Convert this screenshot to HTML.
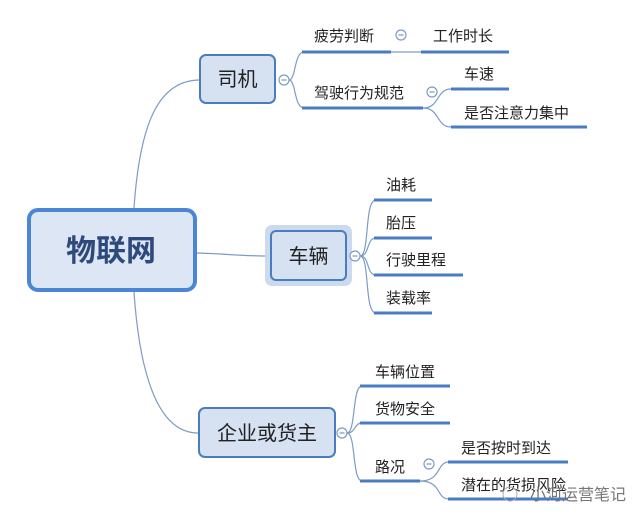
<!DOCTYPE html>
<html><head><meta charset="utf-8"><style>
html,body{margin:0;padding:0;background:#fff;}
svg{display:block;}
text{font-family:"Liberation Sans","Noto Sans CJK SC",sans-serif;fill:#222;}
</style></head><body>
<svg width="640" height="524" viewBox="0 0 640 524" xmlns="http://www.w3.org/2000/svg">
<g fill="none" stroke="#7d9cc4" stroke-width="1.2">
<path d="M134 208 C140 120 160 80 200 80"/>
<path d="M134 292 C140 380 160 433 198 433"/>
<path d="M197 253 C230 254 240 256 270 256"/>
<path d="M289 80 C296 80 294 52 304 52"/>
<path d="M289 80 C296 80 294 108 304 108"/>
<path d="M391 52 L421 52"/>
<path d="M423 108 C440 108 436 89 451 89"/>
<path d="M423 108 C440 108 436 127 451 127"/>
<path d="M360 256 C370 256 364 200 376 200"/>
<path d="M360 256 C370 256 366 238 376 238"/>
<path d="M360 256 C370 256 366 275 376 275"/>
<path d="M360 256 C370 256 364 313 376 313"/>
<path d="M347 433 C356 433 352 386 362 386"/>
<path d="M347 433 C356 433 354 423 362 423"/>
<path d="M347 433 C356 433 352 481 362 481"/>
<path d="M420 481 C442 481 436 462 449 462"/>
<path d="M420 481 C442 481 436 499 449 499"/>
</g>
<g stroke="#4a7cc4" stroke-width="3" fill="none">
<path d="M302 52H391M421 52H509M302 108H423M451 89H509M451 127H587"/>
<path d="M374 200H432M374 238H432M374 275H463M374 313H432"/>
<path d="M360 386H450M360 423H450M360 481H420M448 462H568M448 499H568"/>
</g>
<rect x="29" y="210" width="166" height="80" rx="9" fill="#dde6f4" stroke="#4a86d4" stroke-width="4"/>
<text x="111" y="261" font-size="30" font-weight="bold" text-anchor="middle" style="fill:#2e4a7c">物联网</text>
<rect x="200" y="55" width="75" height="48" rx="6" fill="#d6e1f2" stroke="#4a7cc0" stroke-width="2"/>
<text x="237.5" y="86" font-size="20" text-anchor="middle">司机</text>
<rect x="265" y="225" width="87" height="61" rx="7" fill="#cbdaed"/>
<rect x="271" y="231" width="75" height="49" rx="5" fill="#d6e1f2" stroke="#4a7cc0" stroke-width="2"/>
<text x="308.5" y="263" font-size="20" text-anchor="middle">车辆</text>
<rect x="199" y="408" width="136" height="49" rx="6" fill="#d6e1f2" stroke="#4a7cc0" stroke-width="2"/>
<text x="267" y="440" font-size="20" text-anchor="middle">企业或货主</text>
<g fill="#fff" stroke="#7d9cc4" stroke-width="1.2">
<circle cx="284" cy="80" r="5"/><circle cx="401" cy="35" r="5"/><circle cx="432" cy="92" r="5"/>
<circle cx="355" cy="256" r="5"/><circle cx="342" cy="433" r="5"/><circle cx="429" cy="464" r="5"/>
</g>
<g stroke="#7d9cc4" stroke-width="1.2">
<path d="M281.5 80h5M398.5 35h5M429.5 92h5M352.5 256h5M339.5 433h5M426.5 464h5"/>
</g>
<g font-size="15">
<text x="314" y="41">疲劳判断</text>
<text x="433" y="41">工作时长</text>
<text x="314" y="98">驾驶行为规范</text>
<text x="464" y="79">车速</text>
<text x="464" y="118">是否注意力集中</text>
<text x="386" y="190">油耗</text>
<text x="386" y="228">胎压</text>
<text x="386" y="265">行驶里程</text>
<text x="386" y="303">装载率</text>
<text x="375" y="377">车辆位置</text>
<text x="375" y="414">货物安全</text>
<text x="375" y="472">路况</text>
<text x="461" y="453">是否按时到达</text>
<text x="461" y="490">潜在的货损风险</text>
</g>
<circle cx="510" cy="494" r="7" fill="none" stroke="#aaa" stroke-width="1"/>
<text x="530" y="500" font-size="16" style="fill:#777">小河运营笔记</text>
</svg>
</body></html>
